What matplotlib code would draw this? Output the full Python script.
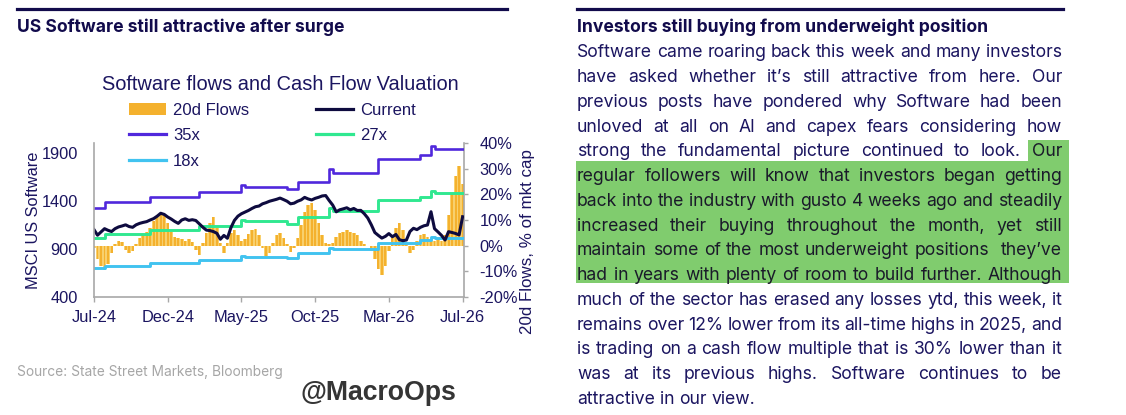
import matplotlib
matplotlib.use('Agg')
import matplotlib.pyplot as plt
from matplotlib.lines import Line2D
from matplotlib.patches import Patch, Rectangle
from matplotlib.ticker import FuncFormatter

W, H = 1126, 415

# ---- chart data (weekly, Jul-24 .. Jul-26) ----
weeks = list(range(106))

current = [1100, 1042, 1076, 1110, 1093, 1080, 1110, 1128, 1138, 1150,
           1132, 1124, 1150, 1165, 1175, 1183, 1200, 1215, 1240, 1270,
           1258, 1231, 1210, 1185, 1165, 1200, 1213, 1196, 1203, 1195,
           1160, 1125, 1095, 1090, 1080, 1062, 1000, 1040, 1010, 1120,
           1196, 1240, 1265, 1282, 1299, 1320, 1338, 1345, 1368, 1380,
           1395, 1405, 1415, 1428, 1412, 1395, 1368, 1375, 1395, 1409,
           1435, 1419, 1408, 1425, 1436, 1450, 1454, 1402, 1355, 1285,
           1306, 1316, 1327, 1306, 1320, 1299, 1300, 1265, 1220, 1150,
           1070, 1040, 1012, 1030, 1059, 1026, 1050, 995, 985, 992,
           1080, 1114, 1100, 1124, 1140, 1148, 1286, 1110, 1076, 1040,
           992, 1079, 1070, 1060, 1045, 1234]

flows = [-1, -5, -8, -9.5, -7, -3, 0.5, 2, 1.5, -1.5,
         -3, -2, 0.5, 3, 4.5, 5.5, 7, 9.5, 11.5, 12.5,
         12, 9, 5.5, 3.5, 3, 2.5, 2, 2.5, 1.5, -1.5,
         -3.5, 1, 5, 9, 11, 7, 1, -3, 1, 5,
         6, 4, 2, 2.5, 4.5, 6, 6.5, 4, -1, -4,
         -3, 1, 4, 5, 3, 0.5, -2.5, -1, 3, 8,
         13, 16, 16.5, 14, 9, 4, 1, 0.5, 1, 3.5,
         5, 5.5, 6, 5.5, 5, 4, 2, 0.5, 0, -2,
         -5, -9, -11.5, -8, -2, 3, 7, 9, 6, 1,
         -3, -1.5, 2, 4, 4.5, 3.5, 2, 2, 2.5, 2,
         4, 12, 20, 27, 31, 24]

# cash-flow valuation bands (step changes)
step_weeks = [0, 3, 16, 30, 42, 43, 55, 58, 67, 68, 81, 93, 96, 97, 105]
band35 = [1328, 1388, 1442, 1494, 1562, 1546, 1519, 1598, 1727, 1685, 1834, 1875, 1969, 1934, 1934]
band27 = [1010, 1051, 1096, 1138, 1200, 1190, 1158, 1228, 1322, 1297, 1408, 1436, 1504, 1477, 1477]
band18 = [698, 725, 756, 784, 826, 819, 802, 854, 906, 896, 964, 992, 1026, 1016, 1016]

x_tick_weeks = [0, 21, 42, 63, 84, 105]
x_tick_labels = ['Jul-24', 'Dec-24', 'May-25', 'Oct-25', 'Mar-26', 'Jul-26']
left_ticks = [400, 900, 1400, 1900]
right_ticks = [-20, -10, 0, 10, 20, 30, 40]

# ---- article text ----
left_heading = 'US Software still attractive after surge'
right_heading = 'Investors still buying from underweight position'
para_lines = [
    'Software came roaring back this week and many investors',
    'have asked whether it\u2019s still attractive from here. Our',
    'previous posts have pondered why Software had been',
    'unloved at all on AI and capex fears considering how',
    'strong the fundamental picture continued to look. Our',
    'regular followers will know that investors began getting',
    'back into the industry with gusto 4 weeks ago and steadily',
    'increased their buying throughout the month, yet still',
    'maintain some of the most underweight positions  they\u2019ve',
    'had in years with plenty of room to build further. Although',
    'much of the sector has erased any losses ytd, this week, it',
    'remains over 12% lower from its all-time highs in 2025, and',
    'is trading on a cash flow multiple that is 30% lower than it',
    'was at its previous highs. Software continues to be',
    'attractive in our view.',
]

navy = '#1B1560'
rule_col = '#120B4C'
dark = '#1A1A2A'
grey_spine = '#A8A8A8'
c_flow = '#F4B12E'
c_flow_light = '#F8D06E'
c_cur = '#0E0B3F'
c_35 = '#5028DC'
c_27 = '#30E890'
c_18 = '#41C3F0'
c_green = '#80CC6E'
chart_font = 'Liberation Sans'
text_font = 'Inter'


def fx(x):
    return x / W


def fy(y):
    return 1 - y / H


fig = plt.figure(figsize=(W / 100, H / 100), dpi=100)
fig.patch.set_facecolor('white')

# header rules and headings
fig.add_artist(Line2D([fx(17), fx(507)], [fy(9), fy(9)], lw=2.3, color=rule_col))
fig.add_artist(Line2D([fx(577), fx(1063)], [fy(9), fy(9)], lw=2.3, color=rule_col))
fig.text(fx(17), fy(32.3), left_heading, family=text_font, fontweight='bold',
         fontsize=12.6, color=rule_col, va='baseline')
fig.text(fx(577), fy(32.3), right_heading, family=text_font, fontweight='bold',
         fontsize=12.6, color=rule_col, va='baseline')

# ---- chart ----
ax = fig.add_axes([fx(94), fy(297), (464 - 94) / W, (297 - 143) / H])
ax2 = ax.twinx()
ax.set_zorder(ax2.get_zorder() + 1)
ax.patch.set_visible(False)

ax2.bar(weeks, flows, width=1.0, color=c_flow_light, linewidth=0)
ax2.bar(weeks, flows, width=0.55, color=c_flow, linewidth=0)

ax.step(step_weeks, band35, where='post', color=c_35, lw=1.9)
ax.step(step_weeks, band27, where='post', color=c_27, lw=2.1)
ax.step(step_weeks, band18, where='post', color=c_18, lw=2.1)
ax.plot(weeks, current, color=c_cur, lw=2.2)

ax.set_xlim(0, 105.4)
ax.set_ylim(400, 2000)
ax2.set_ylim(-20, 40)
ax.set_xticks(x_tick_weeks)
ax.set_xticklabels(x_tick_labels)
ax.set_yticks(left_ticks)
ax2.set_yticks(right_ticks)
ax2.yaxis.set_major_formatter(FuncFormatter(lambda v, p: f'{v:.0f}%'))

for a in (ax, ax2):
    a.spines['top'].set_visible(False)
    for s in a.spines.values():
        s.set_color(grey_spine)
        s.set_linewidth(1.2)
ax.spines['right'].set_visible(False)
ax2.spines['left'].set_visible(False)
ax2.spines['bottom'].set_visible(False)

ax.tick_params(axis='y', length=0, pad=11.5, labelsize=11.8, labelcolor=navy)
ax.tick_params(axis='x', length=3.5, width=1.0, color=grey_spine, pad=5.5,
               labelsize=11.8, labelcolor=navy)
ax2.tick_params(axis='y', length=3.2, width=1.0, color=grey_spine, pad=8,
                labelsize=11.8, labelcolor=navy)
for lab in ax.get_xticklabels() + ax.get_yticklabels() + ax2.get_yticklabels():
    lab.set_family(chart_font)

ax.set_ylabel('MSCI US Software', family=chart_font, fontsize=11.8, color=navy)
ax.yaxis.set_label_coords(-0.143, 0.5)
ax2.set_ylabel('20d Flows, % of mkt cap', family=chart_font, fontsize=12.2, color=navy)
ax2.yaxis.set_label_coords(1.152, 0.36)

fig.text(fx(280), fy(90), 'Software flows and Cash Flow Valuation', family=chart_font,
         fontsize=14.4, color=navy, ha='center', va='baseline')

handles = [Patch(facecolor=c_flow, edgecolor='none'),
           Line2D([], [], color=c_35, lw=2.3),
           Line2D([], [], color=c_18, lw=2.3),
           Line2D([], [], color=c_cur, lw=2.3),
           Line2D([], [], color=c_27, lw=2.3)]
labels = ['20d Flows', '35x', '18x', 'Current', '27x']
leg = fig.legend(handles, labels, ncol=2, loc='upper left',
                 bbox_to_anchor=(fx(129), fy(103)), frameon=False,
                 prop={'family': chart_font, 'size': 12}, handlelength=2.2,
                 handletextpad=0.45, columnspacing=4.0, labelspacing=0.62,
                 borderpad=0, borderaxespad=0)
for t in leg.get_texts():
    t.set_color(navy)

fig.text(fx(17), fy(376), 'Source: State Street Markets, Bloomberg', family=text_font,
         fontsize=9.9, color='#A6A6A6', va='baseline')
fig.text(fx(300), fy(400), '@MacroOps', family=chart_font, fontweight='bold',
         fontsize=19.2, color='#353535', va='baseline')

# ---- justified paragraph ----
renderer = fig.canvas.get_renderer()
x0, x1 = 577, 1062
para_size = 12.65
space_w = 5.0
our_x = None
for i, line in enumerate(para_lines):
    base = 57.3 + 24.75 * i
    words = line.split(' ')
    arts = []
    for j, w in enumerate(words):
        hl = (i == 4 and j == len(words) - 1) or (5 <= i <= 9)
        arts.append(fig.text(0, fy(base), w, family=text_font, fontsize=para_size,
                             color=dark if hl else navy, va='baseline', zorder=3))
    widths = [t.get_window_extent(renderer).width if t.get_text() else 0 for t in arts]
    if i == len(para_lines) - 1:
        gap = space_w
    else:
        gap = (x1 - x0 - sum(widths)) / (len(words) - 1)
    x = x0
    for t, wd in zip(arts, widths):
        t.set_x(fx(x))
        if i == 4 and t is arts[-1]:
            our_x = x
        x += wd + gap

fig.add_artist(Rectangle((fx(our_x - 4), fy(161)), (1069 - our_x + 4) / W, 21 / H,
                         transform=fig.transFigure, color=c_green, zorder=1, lw=0))
fig.add_artist(Rectangle((fx(576), fy(283.3)), (1069 - 576) / W, (283.3 - 161) / H,
                         transform=fig.transFigure, color=c_green, zorder=1, lw=0))

fig.savefig('out.png', dpi=100, facecolor='white')
